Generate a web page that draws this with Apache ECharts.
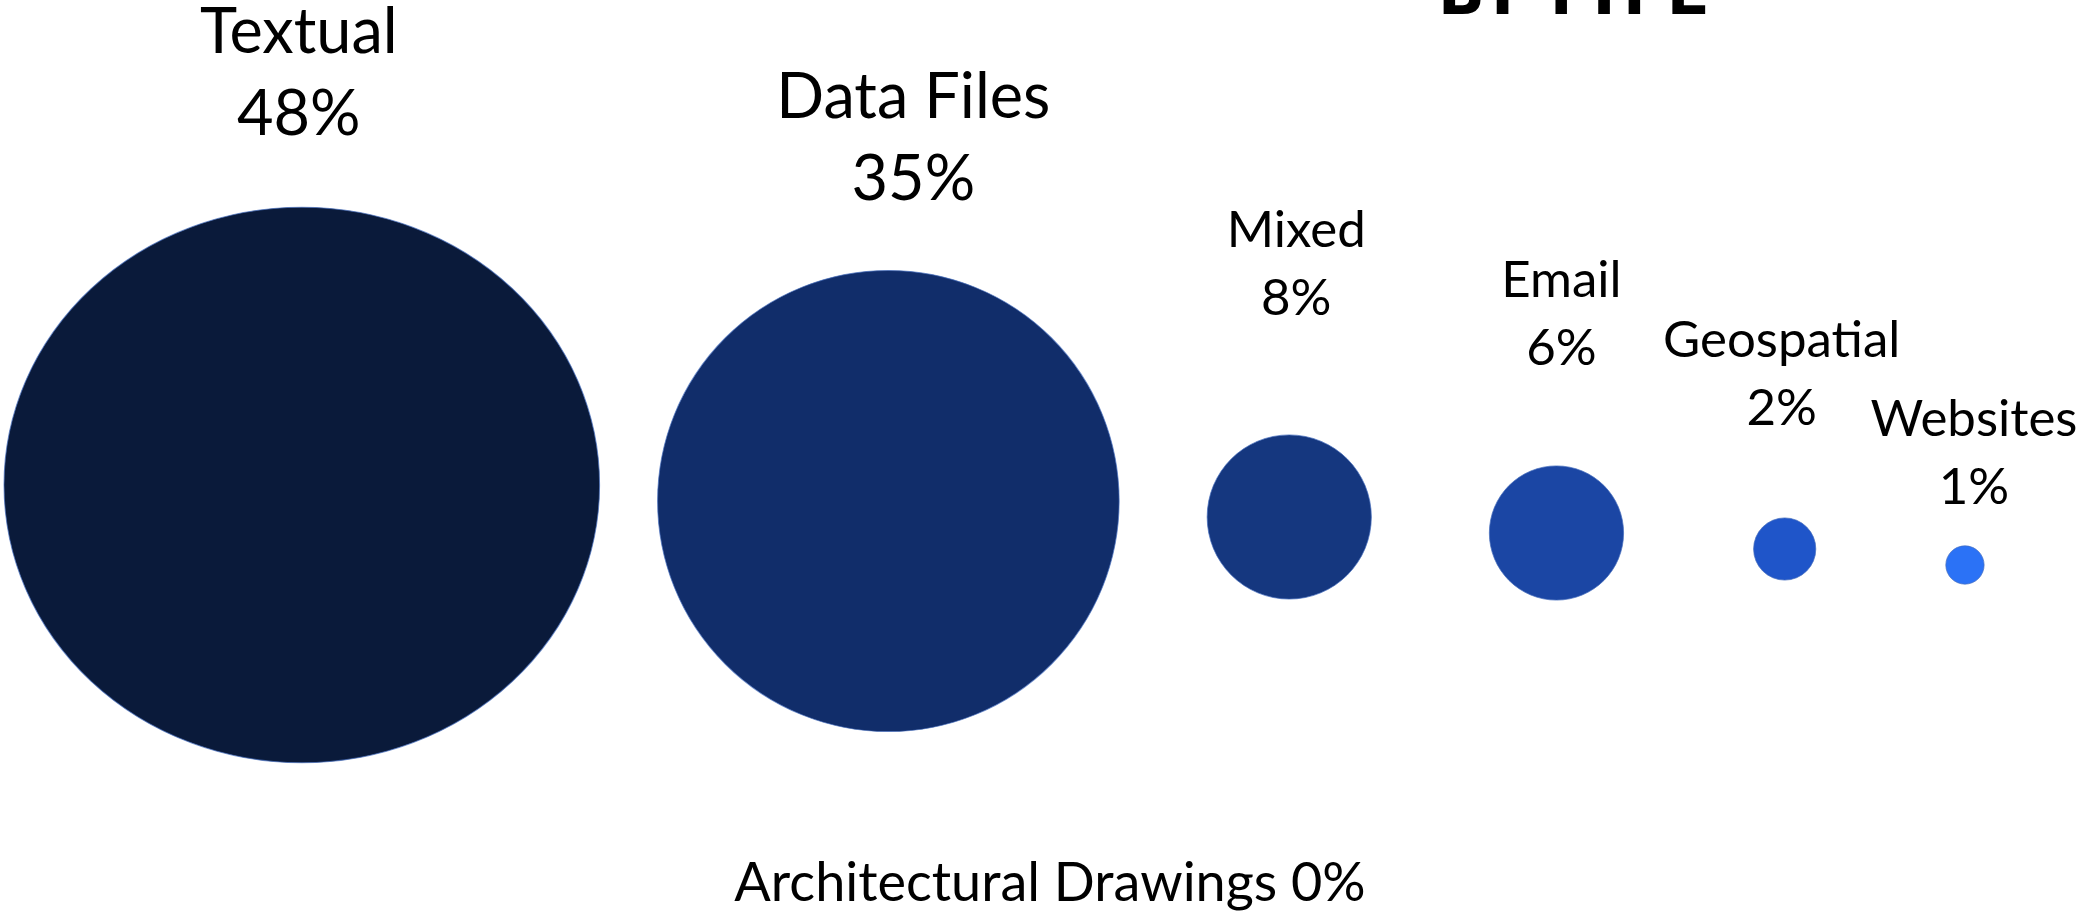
<!DOCTYPE html>
<html><head><meta charset="utf-8">
<script src="https://cdn.jsdelivr.net/npm/echarts@6/dist/echarts.min.js"></script>
<style>html,body{margin:0;padding:0;background:#fff;overflow:hidden}#c{width:2078px;height:923px}</style>
</head><body><div id="c"></div>
<script>
// ---- data ----
const categories = ['Textual', 'Data Files', 'Mixed', 'Email', 'Geospatial', 'Websites', 'Architectural Drawings'];
const shares = [48, 35, 8, 6, 2, 1, 0];
const titleText = 'BY TYPE';

// ---- styling / layout (not data) ----
const W = 2078, H = 923;
const colors = ['#0a1a3a', '#112d6a', '#15377f', '#1b46a4', '#1f55c9', '#2b72f6'];
const diam = v => 38.3 * Math.pow(v, 0.70);          // bubble size scale
const labelDist = [51, 49, 102, 83, 75, 24];          // gap label -> bubble
const labelDx = [-3, 25, 7, 5, -3, 9];

const chart = echarts.init(document.getElementById('c'), null, {renderer: 'canvas'});

// pack bubbles left-to-right
const items = [];
let prevX = null, prevW = 0, k = 0;
categories.forEach((name, i) => {
  const v = shares[i];
  if (v <= 0) return;
  const d = diam(v);
  const s = Math.max(0, (d - 460) / 116);
  const w = d * (1 + 0.035 * s), h = d * (1 - 0.035 * s);
  let x;
  if (prevX === null) x = 4 + w / 2;
  else x = prevX + prevW / 2 + w / 2 + Math.min(58 + 30 * (k - 1), 130);
  const y = 485 + 16 * k;
  const fs = d > 300 ? 63 : 51;
  const lh = d > 300 ? 82 : 68;
  items.push({
    name, value: [x, y, v], symbolSize: [w, h],
    itemStyle: {color: colors[k], opacity: 1, borderColor: 'rgba(70,110,190,0.7)', borderWidth: 1},
    label: {distance: labelDist[k], offset: [labelDx[k], 0], fontSize: fs, lineHeight: lh, color: '#000'}
  });
  prevX = x; prevW = w; k++;
});
const zeroText = categories.map((c, i) => shares[i] === 0 ? c + ' ' + shares[i] + '%' : null).filter(Boolean).join('   ');

chart.setOption({
  backgroundColor: '#fff',
  animation: false,
  grid: {left: 0, right: 0, top: 0, bottom: 0},
  xAxis: {type: 'value', min: 0, max: W, show: false},
  yAxis: {type: 'value', min: 0, max: H, inverse: true, show: false},
  series: [{
    type: 'scatter',
    symbol: 'circle',
    itemStyle: {opacity: 1},
    emphasis: {disabled: true},
    data: items,
    label: {
      show: true, position: 'top', color: '#000', fontFamily: 'Lato',
      formatter: p => p.name + '\n' + p.value[2] + '%'
    }
  }],
  graphic: [
    {type: 'text', left: 1440, top: -36, style: {text: titleText, font: '900 67px Roboto', fill: '#000'}},
    {type: 'text', x: 1050, y: 884, style: {text: zeroText, font: '54px Lato', fill: '#000', textAlign: 'center', textVerticalAlign: 'middle', align: 'center', verticalAlign: 'middle'}}
  ]
});
</script></body></html>
